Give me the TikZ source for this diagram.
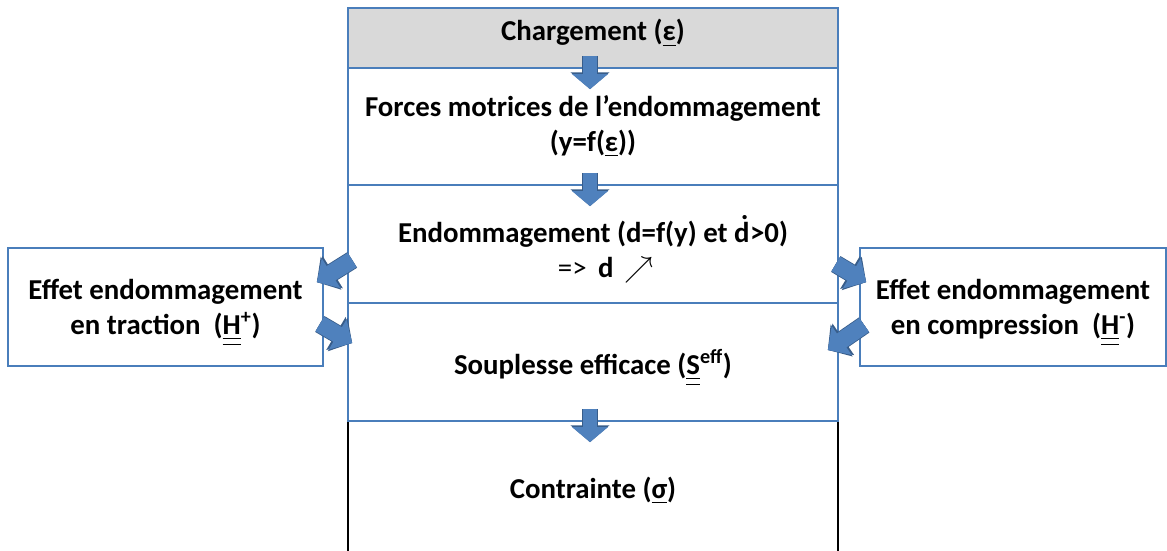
\documentclass[tikz,border=0pt]{standalone}
\usepackage{amsmath}
\usepackage{fontspec}
\setmainfont{Carlito}
\usetikzlibrary{arrows.meta}
\usetikzlibrary{positioning}
\definecolor{boxline}{HTML}{4A7EBB}
\definecolor{arrowfill}{HTML}{4F81BD}
\definecolor{arrowline}{HTML}{385D8A}
\definecolor{headgray}{HTML}{D9D9D9}
\newcommand{\tens}[1]{\underline{\underline{#1}}}
\newcommand{\dotd}{d\kern-0.3em\raisebox{0.8em}{.}\kern0.05em}

\begin{document}
\begin{tikzpicture}[x=0.025cm,y=-0.025cm,font=\fontsize{20.5}{24.9}\selectfont\bfseries]
	\def\px{0.025cm}
	\tikzstyle{box} = [rectangle, draw=boxline, line width=1.2pt, text centered, align=center, inner sep=0pt]
	\tikzstyle{stage} = [box, minimum width=490*\px, minimum height=118*\px]
	\tikzstyle{side} = [box, minimum height=118*\px, text height=4.7em]
	\tikzstyle{flow} = [draw=arrowfill, line width=0.35cm, -{Triangle[width=0.875cm,length=0.375cm]},
		preaction={draw=arrowline, line width=0.39cm, -{Triangle[width=0.95cm,length=0.42cm]}}]
	\tikzstyle{sideflow} = [flow, line width=0.42cm, -{Triangle[width=0.85cm,length=0.42cm]},
		preaction={draw=arrowline, line width=0.46cm, -{Triangle[width=0.93cm,length=0.47cm]}}]
	\useasboundingbox (0,0) rectangle (1167,551);
	% central column, top to bottom
	\node (contr)[stage, draw=black, minimum height=139*\px] at (593,490.5) {Contrainte (\underline{σ})};
	\node (charge)[stage, fill=headgray, minimum height=60*\px, text depth=1.1em] at (593,38) {Chargement (\underline{ε})};
	\node (forces)[stage, minimum height=117*\px] at (593,126.5) {Forces motrices de l’endommagement\\(y=f(\underline{ε}))};
	\node (endo)[stage, text height=5.2em] at (593,244) {Endommagement (d=f(y) et \dotd>0)\\\hspace*{0.9em}{\mdseries =>}\ \,d\ \,$\nearrow$};
	\node (soup)[stage, text height=2.6em] at (593,362) {Souplesse efficace (\tens{S}\textsuperscript{eff})};
	% side boxes
	\node (tractn)[side, minimum width=315*\px] at (165.5,307) {Effet endommagement\\en traction\ \ (\tens{H}\textsuperscript{+})};
	\node (compr)[side, minimum width=306*\px] at (1013,307) {Effet endommagement\\en compression\ \ (\tens{H}\textsuperscript{-})};
	% block arrows
	\draw[flow] ([xshift=-3*\px,yshift=13*\px]charge.south) -- ([xshift=-3*\px,yshift=-22*\px]forces.north);
	\draw[flow] ([xshift=-3*\px,yshift=13*\px]forces.south) -- ([xshift=-3*\px,yshift=-22*\px]endo.north);
	\draw[flow] ([xshift=-3*\px,yshift=13*\px]soup.south) -- ([xshift=-3*\px,yshift=-22*\px]contr.north);
	\draw[sideflow] ([xshift=5*\px,yshift=-16*\px]endo.west) -- ([xshift=-7*\px,yshift=-35*\px]tractn.north east);
	\draw[sideflow] ([xshift=-4*\px,yshift=-17*\px]tractn.east) -- ([xshift=5*\px,yshift=19*\px]soup.west);
	\draw[sideflow] ([xshift=-3*\px,yshift=-20*\px]endo.east) -- ([xshift=7*\px,yshift=-35*\px]compr.north west);
	\draw[sideflow] ([xshift=5*\px,yshift=-18*\px]compr.west) -- ([xshift=-11*\px,yshift=12*\px]soup.east);
\end{tikzpicture}
\end{document}
